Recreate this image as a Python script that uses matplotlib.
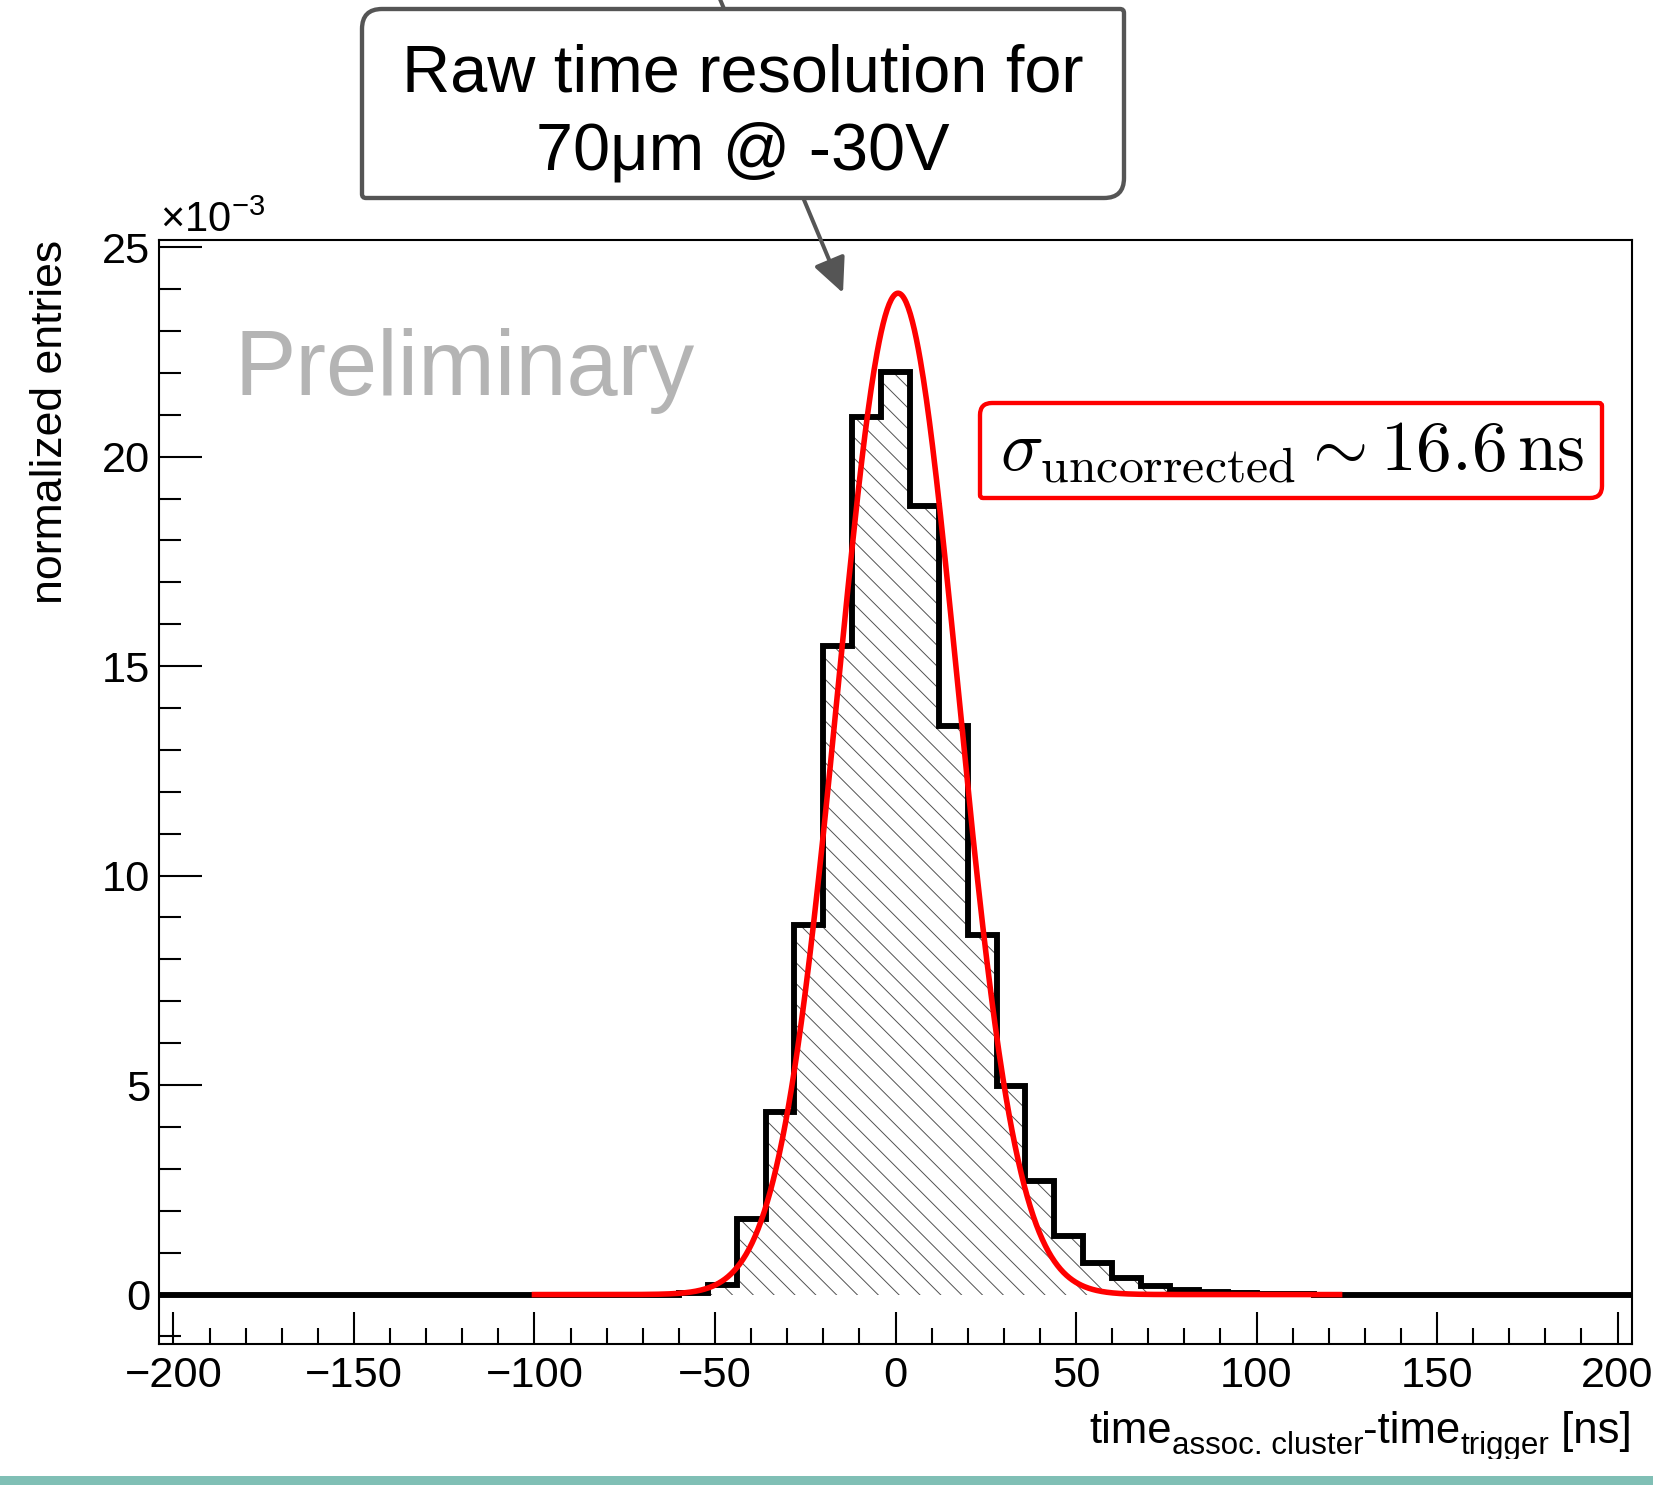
"""Raw time resolution histogram with Gaussian fit (ROOT-style)."""
import numpy as np
import matplotlib
matplotlib.use("Agg")
import matplotlib.pyplot as plt
from matplotlib.path import Path
from matplotlib.patches import PathPatch, Rectangle
from matplotlib.ticker import MultipleLocator

W, H, DPI = 1653, 1485, 125

# histogram: 8 ns bins from -204 to 204 ns, values in units of 1e-3
BIN_LO, BIN_HI, BIN_W = -204, 204, 8
counts = [
    0, 0, 0, 0, 0, 0, 0, 0, 0, 0,
    0, 0, 0, 0, 0, 0, 0, 0, 0.03, 0.22,
    1.81, 4.36, 8.81, 15.48, 20.95, 22.03, 18.81, 13.57, 8.59, 4.98,
    2.72, 1.40, 0.75, 0.40, 0.20, 0.12, 0.07, 0.04, 0.02, 0.01,
    0, 0, 0, 0, 0, 0, 0, 0, 0, 0,
    0,
]

# Gaussian fit parameters
FIT_AMP = 23.9
FIT_MEAN = 0.7
FIT_SIGMA = 16.6
FIT_RANGE = (-100, 123)

XLIM = (-204, 204)
YLIM = (-1.18, 25.17)

# x label pieces: (text, font size, baseline shift in px)
XLABEL_PARTS = [
    ("time", 25.2, 0),
    ("assoc. cluster", 18, 11),
    ("-time", 25.2, 0),
    ("trigger", 18, 11),
    (" [ns]", 25.2, 0),
]

plt.rcParams["font.family"] = ["Liberation Sans", "DejaVu Sans"]
plt.rcParams["mathtext.fontset"] = "custom"
plt.rcParams["mathtext.rm"] = "Liberation Sans"
plt.rcParams["mathtext.it"] = "Liberation Sans:italic"
plt.rcParams["hatch.linewidth"] = 0.55


def rounded_box(x0, y0, x1, y1, tl, tr, br, bl):
    verts = [
        (x0 + tl, y0), (x1 - tr, y0), (x1, y0), (x1, y0 + tr),
        (x1, y1 - br), (x1, y1), (x1 - br, y1),
        (x0 + bl, y1), (x0, y1), (x0, y1 - bl),
        (x0, y0 + tl), (x0, y0), (x0 + tl, y0), (x0 + tl, y0),
    ]
    codes = [
        Path.MOVETO, Path.LINETO, Path.CURVE3, Path.CURVE3,
        Path.LINETO, Path.CURVE3, Path.CURVE3,
        Path.LINETO, Path.CURVE3, Path.CURVE3,
        Path.LINETO, Path.CURVE3, Path.CURVE3, Path.CLOSEPOLY,
    ]
    return Path(verts, codes)


def place_parts(fig, ov, x_right, baseline, parts):
    # lay text pieces left to right, then right-align the whole string
    renderer = fig.canvas.get_renderer()
    placed = []
    x = 0.0
    for s, size, dy in parts:
        t = ov.text(x, baseline + dy, s, fontsize=size, ha="left", va="baseline")
        placed.append((t, x))
        x += t.get_window_extent(renderer).width
    for t, x0 in placed:
        t.set_x(x_right - x + x0)


def main() -> None:
    fig = plt.figure(figsize=(W / DPI, H / DPI), dpi=DPI)
    ax = fig.add_axes([159 / W, 1 - 1344 / H, (1632 - 159) / W, (1344 - 240) / H])

    edges = np.arange(BIN_LO, BIN_HI + BIN_W, BIN_W)
    ax.stairs(counts, edges, fill=True, hatch="\\\\", facecolor="none",
              edgecolor="#505050", linewidth=0, zorder=1)
    ax.stairs(counts, edges, color="black", linewidth=3.4, zorder=2)

    x = np.linspace(FIT_RANGE[0], FIT_RANGE[1], 800)
    y = FIT_AMP * np.exp(-0.5 * ((x - FIT_MEAN) / FIT_SIGMA) ** 2)
    ax.plot(x, y, color="red", linewidth=3.2, zorder=3)

    ax.set_xlim(*XLIM)
    ax.set_ylim(*YLIM)
    ax.xaxis.set_major_locator(MultipleLocator(50))
    ax.xaxis.set_minor_locator(MultipleLocator(10))
    ax.yaxis.set_major_locator(MultipleLocator(5))
    ax.yaxis.set_minor_locator(MultipleLocator(1))
    ax.tick_params(axis="both", which="both", direction="in", top=False,
                   right=False, width=1.2, labelsize=25)
    ax.tick_params(axis="x", which="major", length=18.2, pad=7)
    ax.tick_params(axis="x", which="minor", length=9.2)
    ax.tick_params(axis="y", which="major", length=24.8, pad=5)
    ax.tick_params(axis="y", which="minor", length=12.7)
    for sp in ax.spines.values():
        sp.set_linewidth(1.2)

    # overlay in pixel coordinates for labels and annotations
    ov = fig.add_axes([0, 0, 1, 1], zorder=5)
    ov.set_xlim(0, W)
    ov.set_ylim(H, 0)
    ov.axis("off")
    ov.patch.set_visible(False)

    ov.text(160, 232, r"$\times10^{-3}$", fontsize=24, ha="left", va="baseline")
    ov.text(51, 240, "normalized entries", rotation=90, ha="center", va="top",
            fontsize=25.7)
    place_parts(fig, ov, 1632, 1443, XLABEL_PARTS)
    ov.text(234, 395, "Preliminary", color="#b4b4b4", fontsize=53,
            ha="left", va="baseline")

    # callout with arrow
    ov.annotate("", xy=(843, 293), xytext=(717, -8),
                arrowprops=dict(arrowstyle="-|>,head_length=0.85,head_width=0.4",
                                lw=2.3, color="#555555", shrinkA=0, shrinkB=0,
                                mutation_scale=20), zorder=1)
    ov.add_patch(PathPatch(rounded_box(362, 9, 1124, 198, 20, 4, 20, 4),
                           facecolor="white", edgecolor="#555555", lw=2.5, zorder=2))
    ov.text(743, 91, "Raw time resolution for", ha="center", va="baseline",
            fontsize=38.4, zorder=3)
    ov.text(743, 170, "70\u03bcm @ -30V", ha="center", va="baseline",
            fontsize=38.4, zorder=3)

    # sigma box
    ov.add_patch(PathPatch(rounded_box(980, 403, 1602, 498, 12, 3, 12, 3),
                           facecolor="white", edgecolor="red", lw=2.5, zorder=2))
    ov.text(1292, 470, r"$\sigma_{\mathrm{uncorrected}} \sim 16.6\,\mathrm{ns}$",
            ha="center", va="baseline", fontsize=41, math_fontfamily="cm", zorder=3)

    # cropped bottom edge and teal band
    ov.add_patch(Rectangle((0, 1459), W, 17, facecolor="white", edgecolor="none", zorder=6))
    ov.add_patch(Rectangle((0, 1476), W, 9, facecolor="#80bfb5", edgecolor="none", zorder=7))

    fig.savefig("out.png", dpi=DPI)
    plt.close(fig)


if __name__ == "__main__":
    main()
